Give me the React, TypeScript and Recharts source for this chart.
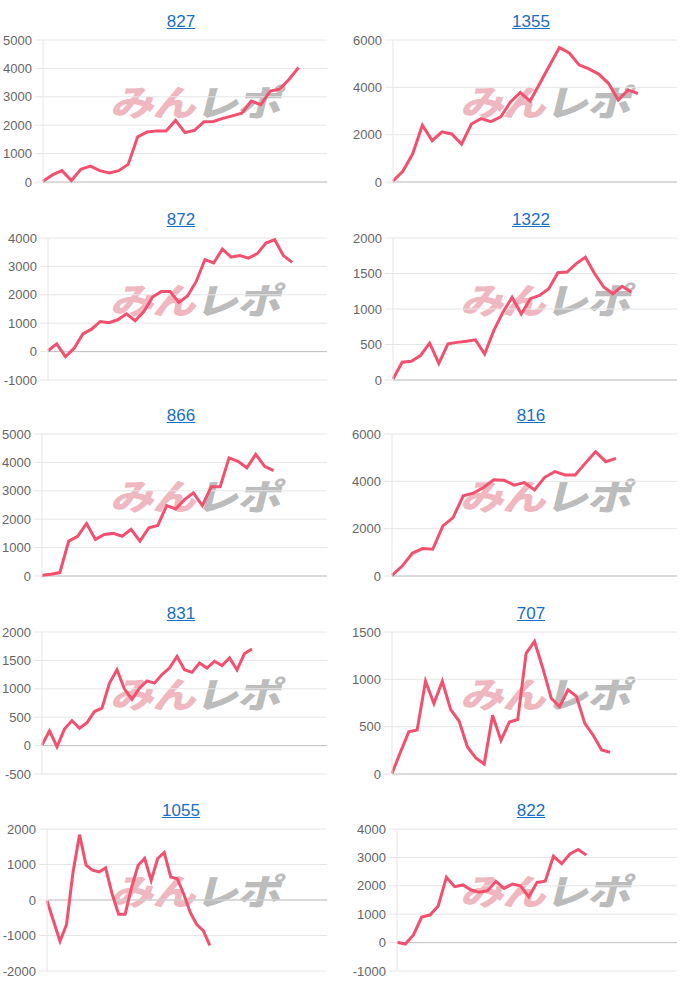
import React from "react";
import { LineChart, Line, XAxis, YAxis, CartesianGrid, ReferenceLine } from "recharts";

// machine numbers shown above each small chart
const titles = ["827", "1355", "872", "1322", "866", "816", "831", "707", "1055", "822"];

// running totals, one value per day
const s827 = [30, 250, 400, 50, 450, 560, 400, 320, 400, 620, 1590, 1760, 1800, 1800, 2170, 1740, 1820, 2120, 2130, 2240, 2330, 2420, 2850, 2720, 3200, 3270, 3620, 4030];
const s1355 = [40, 450, 1180, 2400, 1750, 2120, 2030, 1600, 2450, 2680, 2550, 2750, 3380, 3780, 3420, 4170, 4930, 5680, 5450, 4950, 4780, 4560, 4170, 3460, 3890, 3740];
const s872 = [30, 270, -180, 120, 620, 790, 1060, 1020, 1120, 1330, 1090, 1410, 1920, 2120, 2120, 1730, 1960, 2470, 3240, 3120, 3610, 3330, 3380, 3290, 3450, 3820, 3940, 3380, 3140];
const s1322 = [15, 250, 265, 345, 520, 235, 510, 530, 545, 565, 365, 695, 955, 1165, 930, 1145, 1190, 1285, 1510, 1520, 1640, 1730, 1500, 1310, 1215, 1320, 1240];
const s866 = [25, 60, 120, 1230, 1400, 1850, 1290, 1460, 1500, 1400, 1640, 1230, 1700, 1780, 2480, 2360, 2690, 2930, 2480, 3140, 3140, 4160, 4040, 3810, 4280, 3860, 3710];
const s816 = [30, 420, 960, 1160, 1130, 2120, 2470, 3390, 3500, 3740, 4070, 4050, 3840, 3950, 3640, 4170, 4410, 4270, 4270, 4770, 5250, 4830, 4970];
const s831 = [10, 260, -20, 290, 440, 305, 405, 600, 660, 1100, 1335, 995, 815, 1010, 1140, 1100, 1250, 1365, 1570, 1335, 1290, 1455, 1365, 1485, 1410, 1545, 1335, 1620, 1700];
const s707 = [5, 230, 445, 465, 980, 745, 980, 680, 560, 285, 170, 105, 620, 355, 550, 575, 1275, 1400, 1115, 800, 710, 890, 820, 535, 410, 255, 230];
const s1055 = [-20, -590, -1160, -690, 790, 1840, 980, 840, 790, 905, 170, -400, -400, 360, 980, 1170, 550, 1170, 1340, 650, 600, 170, -350, -690, -860, -1280];
const s822 = [10, -50, 270, 900, 970, 1290, 2300, 1970, 2030, 1850, 1770, 1830, 2160, 1910, 2060, 2000, 1610, 2120, 2160, 3040, 2780, 3120, 3280, 3080];

const series = [s827, s1355, s872, s1322, s866, s816, s831, s707, s1055, s822];

// number of day slots on each x axis
const daySlots = [31, 30, 33, 32, 33, 29, 39, 35, 44, 35];

const yTicks = [
  [0, 1000, 2000, 3000, 4000, 5000],
  [0, 2000, 4000, 6000],
  [-1000, 0, 1000, 2000, 3000, 4000],
  [0, 500, 1000, 1500, 2000],
  [0, 1000, 2000, 3000, 4000, 5000],
  [0, 2000, 4000, 6000],
  [-500, 0, 500, 1000, 1500, 2000],
  [0, 500, 1000, 1500],
  [-2000, -1000, 0, 1000, 2000],
  [-1000, 0, 1000, 2000, 3000, 4000],
];

const axisWidths = [43, 43, 48, 43, 42, 42, 42, 42, 47, 47];
const rowTops = [0, 198, 394, 592, 789];

const FONT = '"Liberation Sans", Arial, Helvetica, sans-serif';
const LINE = "#f2506e";
const GRID = "#e6e6e6";

const Watermark = () => (
  <div
    style={{
      position: "absolute",
      left: 114,
      top: 80,
      width: 180,
      height: 40,
      fontFamily: '"Noto Sans CJK JP", sans-serif',
      fontWeight: 900,
      fontSize: 36,
      lineHeight: "40px",
      letterSpacing: -1,
      whiteSpace: "nowrap",
      transform: "skewX(-14deg) scaleX(1.21)",
      transformOrigin: "left center",
    }}
  >
    <span style={{ color: "#efb7bf" }}>みん</span>
    <span style={{ color: "#bcbcbc" }}>レポ</span>
  </div>
);

const SmallChart = ({ idx }: { idx: number }) => {
  const values = series[idx];
  const data = values.map((v, i) => ({ day: i, v }));
  const ticks = yTicks[idx];
  const row = Math.floor(idx / 2);
  const col = idx % 2;
  return (
    <div
      style={{
        position: "absolute",
        left: col * 350,
        top: rowTops[row],
        width: 350,
        height: 195,
      }}
    >
      <div
        style={{
          position: "absolute",
          left: 0,
          top: 12,
          width: 362,
          textAlign: "center",
          fontFamily: FONT,
          fontSize: 17,
          lineHeight: "20px",
        }}
      >
        <a href="#" style={{ color: "#1b6ec2", textDecoration: "underline" }}>
          {titles[idx]}
        </a>
      </div>
      <Watermark />
      <div style={{ position: "absolute", left: 0, top: 0 }}>
        <LineChart
          width={350}
          height={190}
          data={data}
          margin={{ top: 40, right: 23, bottom: 8, left: 0 }}
        >
          <CartesianGrid vertical={false} stroke={GRID} />
          <XAxis type="number" dataKey="day" domain={[0, daySlots[idx] - 1]} hide />
          <YAxis
            width={axisWidths[idx]}
            domain={[ticks[0], ticks[ticks.length - 1]]}
            ticks={ticks}
            interval={0}
            tick={{ fill: "#666", fontSize: 13, fontFamily: FONT }}
            tickLine={{ stroke: GRID }}
            axisLine={{ stroke: GRID }}
            tickSize={8}
            tickMargin={3}
          />
          <ReferenceLine y={0} stroke="#c2c2c2" />
          <Line
            type="linear"
            dataKey="v"
            stroke={LINE}
            strokeWidth={3}
            dot={false}
            isAnimationActive={false}
          />
        </LineChart>
      </div>
    </div>
  );
};

export default function App() {
  return (
    <div
      style={{
        position: "absolute",
        left: 0,
        top: 0,
        width: 700,
        height: 982,
        background: "#fff",
      }}
    >
      {titles.map((_, i) => (
        <SmallChart key={i} idx={i} />
      ))}
    </div>
  );
}
